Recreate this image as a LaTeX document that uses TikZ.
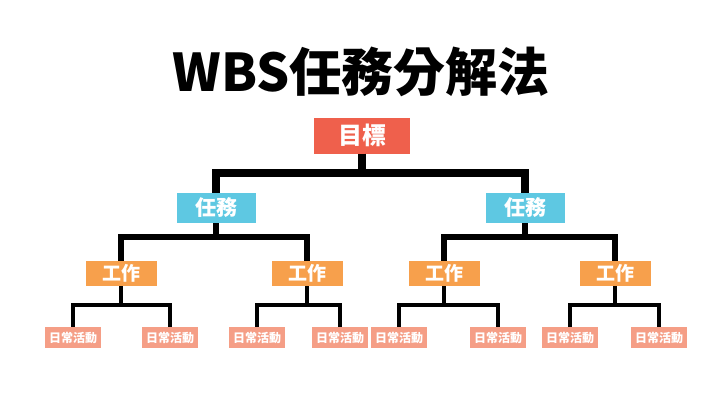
\documentclass[tikz,border=0pt]{standalone}
\usepackage{fontspec}
\setmainfont{Noto Sans CJK TC}
\definecolor{goalred}{RGB}{239,96,76}
\definecolor{taskblue}{RGB}{94,200,226}
\definecolor{workorange}{RGB}{247,160,76}
\definecolor{actsalmon}{RGB}{245,158,134}
\tikzset{
	box/.style={inner sep=0pt, text=white, font=\bfseries},
	goalbox/.style={box, fill=goalred, minimum width=96pt, minimum height=36pt, font=\bfseries\fontsize{24}{24}\selectfont},
	taskbox/.style={box, fill=taskblue, minimum width=79pt, minimum height=30pt, font=\bfseries\fontsize{21}{21}\selectfont},
	workbox/.style={box, fill=workorange, minimum width=71pt, minimum height=25pt, font=\bfseries\fontsize{19}{19}\selectfont},
	actbox/.style={box, fill=actsalmon, minimum width=56pt, minimum height=21pt, font=\bfseries\fontsize{12}{12}\selectfont}
}
\newcommand{\link}[4]{
	\draw[line width=#4] (#1.south) -- ++(0,#3) -| (#2.north);
}

\begin{document}
\begin{tikzpicture}[x=1pt, y=-1pt]

	\useasboundingbox (0,0) rectangle (720,405);
	\node[font=\bfseries\fontsize{52}{52}\selectfont] (title) at (361,72) {WBS任務分解法};

	\node[goalbox] (goal) at (362,135.5) {目標};
	\node[taskbox] (taskL) at (216,208) {任務};
	\node[taskbox] (taskR) at (525,208) {任務};

	\foreach \x [count=\i] in {121, 307, 444, 615}
		\node[workbox] (w\i) at (\x,273.5) {工作};
		; %end for \x
	\foreach \x [count=\i] in {73, 170, 257, 340, 399, 498, 570, 659}
		\node[actbox] (a\i) at (\x,337.5) {日常活動};
		; %end for \x

	\link{goal}{taskL}{19}{8pt}
	\link{goal}{taskR}{19}{8pt}
	\foreach \p/\c in {taskL/w1, taskL/w2, taskR/w3, taskR/w4}
		\link{\p}{\c}{14}{6pt}
		; %end for \p
	\foreach \p/\c in {w1/a1, w1/a2, w2/a3, w2/a4, w3/a5, w3/a6, w4/a7, w4/a8}
		\link{\p}{\c}{19}{3.5pt}
		; %end for \p

\end{tikzpicture}
\end{document}
